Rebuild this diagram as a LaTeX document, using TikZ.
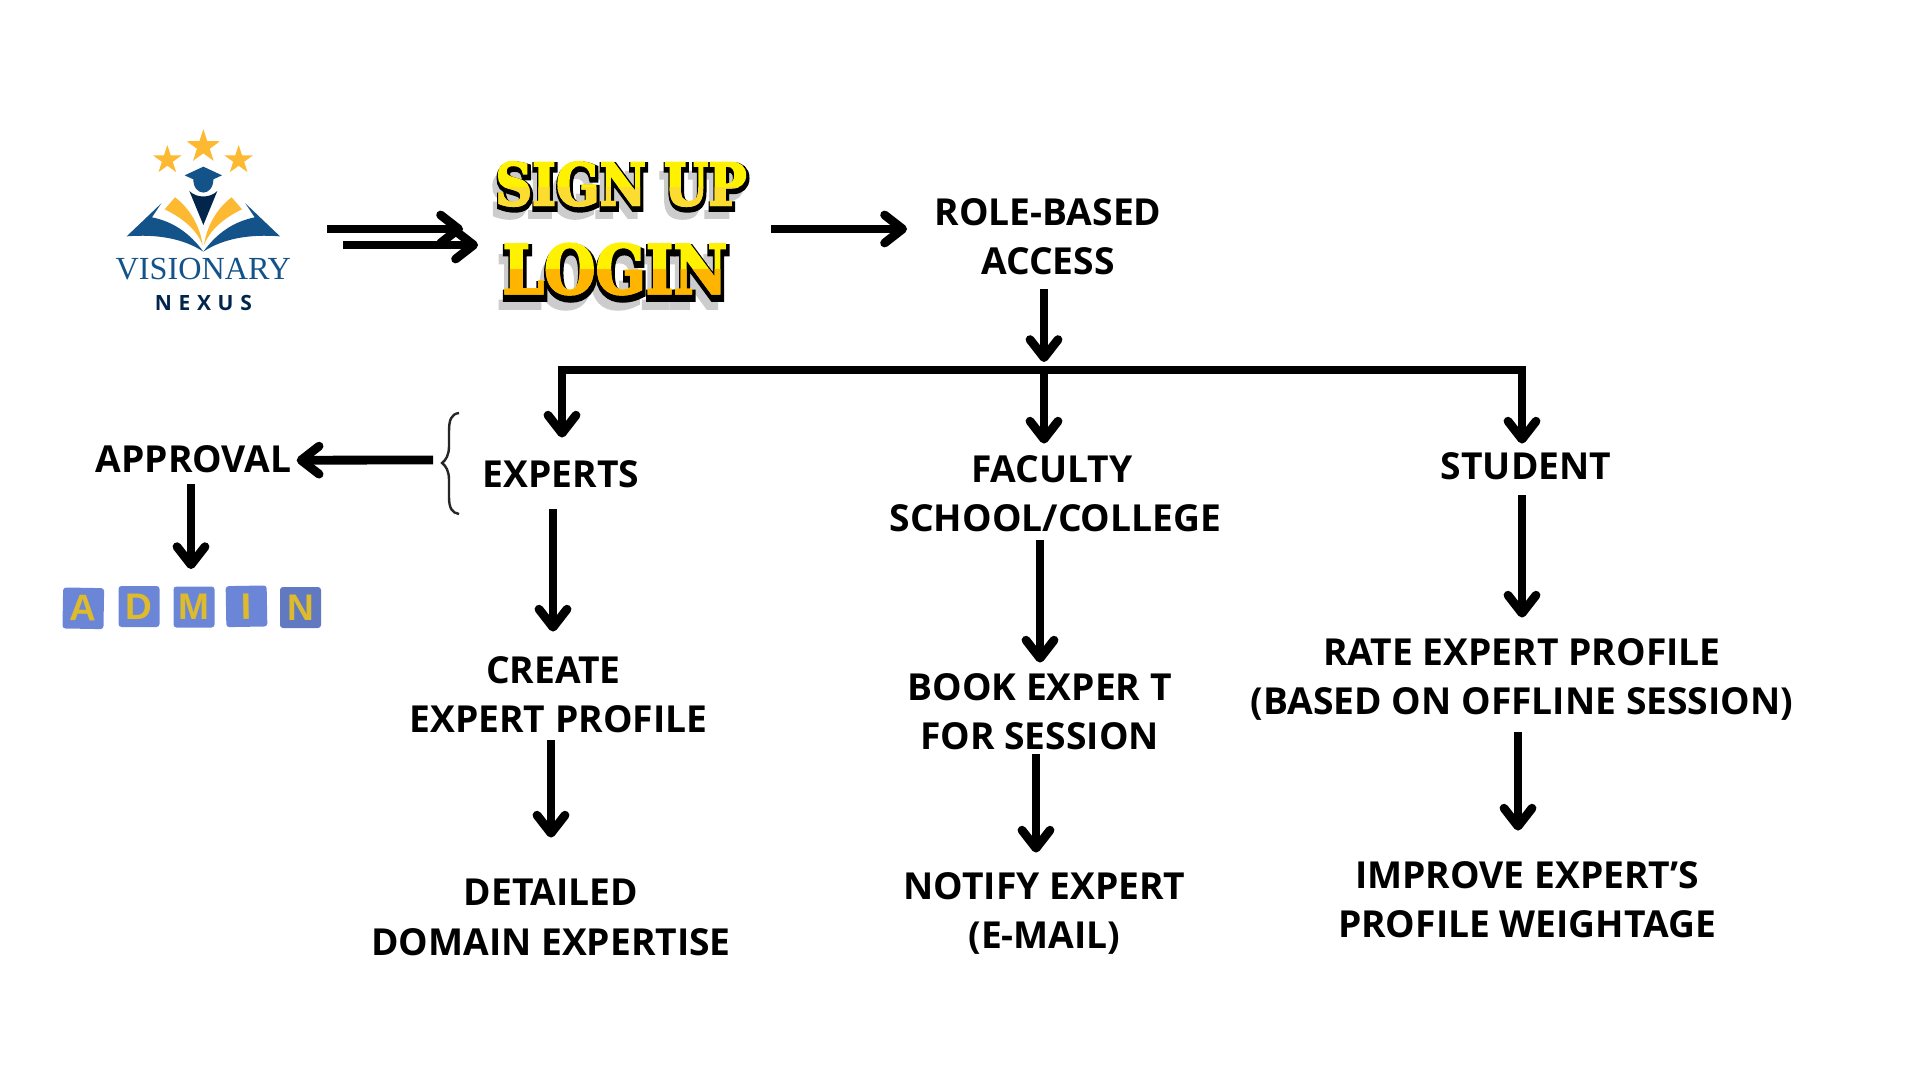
\documentclass[tikz,border=0pt]{standalone}
\usepackage{fontspec}
\usepackage{graphicx}
\usetikzlibrary{arrows.meta,shapes.geometric}
\setmainfont{Open Sans}
\newfontfamily\logoserif{Liberation Serif}
\newfontfamily\logosans[LetterSpace=32]{Open Sans}
\newfontfamily\tilefont{Liberation Sans}
\newfontfamily\toonplain[FakeBold=3]{DejaVu Serif}
\newfontfamily\toonfat[FakeBold=9]{DejaVu Serif}
\newfontfamily\toonfatter[FakeBold=12]{DejaVu Serif}
\newcommand{\tall}[1]{\scalebox{1}[1.15]{#1}}
\definecolor{navy}{HTML}{02264B}
\definecolor{bookblue}{HTML}{14538A}
\definecolor{gold}{HTML}{FDB931}
\definecolor{tileblue}{HTML}{6B86D6}
\definecolor{tilegold}{HTML}{DDBB2C}
\definecolor{toonyellow}{HTML}{FFF200}
\definecolor{toonorange}{HTML}{FFB400}
\definecolor{toonlow}{HTML}{FDDC32}
\tikzset{
  lbl/.style={inner sep=0pt,align=center,font=\fontsize{18.6}{24.7}\selectfont\bfseries,minimum height=44pt},
  lblone/.style={lbl,minimum height=18pt},
  arr/.style={line width=4.4pt,shorten >=-1pt,-{Straight Barb[length=9pt,width=14pt,round]}},
  busline/.style={line width=4.4pt,line cap=butt},
  tile/.style={inner sep=0pt,minimum size=20.5pt,rounded corners=1.5pt,fill=tileblue,text=tilegold,font=\tilefont\bfseries\fontsize{18.5}{19}\selectfont},
  star5/.style={star,star points=5,star point ratio=2.6,fill=gold,inner sep=0pt},
  toon/.style={inner sep=0pt},
  toonA/.style={toon,font=\toonplain\bfseries\fontsize{25.5}{28}\selectfont},
  toonAthick/.style={toon,font=\toonfatter\bfseries\fontsize{25.5}{28}\selectfont},
  toonAshadow/.style={toon,text=black!20,font=\toonfat\bfseries\fontsize{25.5}{28}\selectfont},
  toonB/.style={toon,font=\toonplain\bfseries\fontsize{29.5}{32}\selectfont},
  toonBthick/.style={toon,font=\toonfatter\bfseries\fontsize{29.5}{32}\selectfont},
  toonBshadow/.style={toon,text=black!20,font=\toonfat\bfseries\fontsize{29.5}{32}\selectfont}
}
\begin{document}
\begin{tikzpicture}[x=0.5pt,y=-0.5pt]
\useasboundingbox (0,0) rectangle (1920,1080);
\fill[white] (0,0) rectangle (1920,1080);

% ---- logo, drawn in the coordinates of a 3x crop
\begin{scope}[shift={(90,110)},x=0.16667pt,y=-0.16667pt]
  \node[star5,minimum size=17.5pt] (s2) at (340,110) {};
  \node[star5,minimum size=15pt] (s1) at (232,150) {};
  \node[star5,minimum size=15pt] (s3) at (446,150) {};
  \fill[bookblue] (340,170) -- (396,196) -- (340,222) -- (284,196) -- cycle;
  \fill[bookblue] (310,205) -- (370,205) .. controls (372,262) and (308,262) .. (310,205) -- cycle;
  \fill[navy] (298,243) .. controls (320,265) and (360,265) .. (382,243) -- (340,345) -- cycle;
  \fill[gold] (255,262) -- (224,298) .. controls (280,325) and (320,360) .. (338,405) .. controls (330,350) and (300,295) .. (255,262) -- cycle;
  \fill[gold] (425,262) -- (456,298) .. controls (400,325) and (360,360) .. (342,405) .. controls (350,350) and (380,295) .. (425,262) -- cycle;
  \fill[bookblue] (214,280) -- (110,379) .. controls (200,372) and (280,385) .. (340,425) .. controls (300,370) and (250,335) .. (186,322) -- cycle;
  \fill[bookblue] (466,280) -- (570,379) .. controls (480,372) and (400,385) .. (340,425) .. controls (380,370) and (430,335) .. (494,322) -- cycle;
  \node[inner sep=0pt,text=bookblue,font=\logoserif\fontsize{16.1}{18}\selectfont] (vis) at (340,477) {VISIONARY};
  \node[inner sep=0pt,text=navy,font=\logosans\bfseries\fontsize{10.5}{12}\selectfont] (nex) at (340,579) {NEXUS};
\end{scope}
\coordinate (logoA) at (327,229);
\coordinate (logoB) at (343,245);

% ---- cartoon words
\node[toonAshadow] at (617,195) {\tall{SIGN UP}};
\node[toonAthick,text=black] at (622,187) {\tall{SIGN UP}};
\node[toonA,text=toonyellow] (signup) at (621,184) {\tall{SIGN UP}};
\begin{scope}
  \clip (480,188) rectangle (770,215);
  \node[toonA,text=toonlow] at (621,184) {\tall{SIGN UP}};
\end{scope}
\node[toonBshadow] at (611,282) {\tall{LOGIN}};
\node[toonBthick,text=black] at (616,273) {\tall{LOGIN}};
\node[toonB,text=toonyellow] (login) at (615,269) {\tall{LOGIN}};
\begin{scope}
  \clip (480,270) rectangle (760,320);
  \node[toonB,text=toonorange] at (615,269) {\tall{LOGIN}};
\end{scope}

% ---- text nodes
\node[lbl] (role) at (1048,236.4) {ROLE-BASED\\ACCESS};
\node[lblone] (approval) at (193.5,459.2) {APPROVAL};
\node[lblone] (experts) at (561,474) {EXPERTS};
\node[lbl] (faculty) at (1055.5,494) {FACULTY\hspace*{3.7pt}\\SCHOOL/COLLEGE};
\node[lblone] (student) at (1526,466.5) {STUDENT};
\node[lbl] (create) at (558.4,694.7) {CREATE\hspace*{5pt}\\EXPERT PROFILE};
\node[lbl] (detailed) at (551,917.5) {DETAILED\\DOMAIN EXPERTISE};
\node[lbl] (book) at (1039.6,711.5) {BOOK EXPER T\\FOR SESSION};
\node[lbl] (notify) at (1044.5,913.4) {NOTIFY EXPERT\\(E-MAIL)};
\node[lbl] (rate) at (1522,679.3) {RATE EXPERT PROFILE\\(BASED ON OFFLINE SESSION)};
\node[lbl] (improve) at (1527,899.9) {IMPROVE EXPERT’S\\PROFILE WEIGHTAGE};

% ---- admin tiles
\node[tile,rotate=-1] (ta) at (83.3,608.3) {A};
\node[tile] (td) at (139,606.5) {D};
\node[tile] (tm) at (194,607) {M};
\node[tile,rotate=1] (ti) at (246.5,606.3) {I};
\node[tile,fill=tileblue!90!black] (tn) at (300.5,607.5) {N};

% ---- brace
\coordinate (bracetip) at (442,463);
\draw[line width=1.2pt,draw=black!85] (459,413) .. controls (451,414) and (449,420) .. (449,432) -- (449,446) .. controls (449,455) and (446,460) .. (bracetip) .. controls (446,466) and (449,471) .. (449,480) -- (449,497) .. controls (449,508) and (452,513) .. (459,514);

% ---- connectors
\coordinate (signupL) at (461,229);
\coordinate (loginL) at (476,245);
\draw[arr] (logoA) -- (signupL);
\draw[arr] (logoB) -- (loginL);
\coordinate (loginR) at (771,229);
\coordinate (roleL) at (905,229);
\draw[arr] (loginR) -- (roleL);

\coordinate (busL) at (562,370);
\coordinate (busM) at (1044,370);
\coordinate (busR) at (1522,370);
\draw[arr] ([shift={(-4,8.6)}]role.south) -- ([yshift=5pt]busM);
\draw[busline] ([xshift=-2.2pt]busL) -- ([xshift=2.2pt]busR);
\draw[arr] (busL) -- ([shift={(1,-20)}]experts.north);
\draw[arr] (busM) -- ([shift={(-11.5,-8)}]faculty.north);
\draw[arr] (busR) -- ([shift={(-4,-6.5)}]student.north);

\draw[arr] ([shift={(-9,-3)}]bracetip) -- ([shift={(7,1)}]approval.east);
\draw[arr] ([shift={(-2.5,6)}]approval.south) -- ([shift={(-3,-19)}]tm.north);

\draw[arr] ([shift={(-8,17)}]experts.south) -- ([shift={(-5.4,-20.7)}]create.north);
\draw[arr] ([shift={(-7.4,1.3)}]create.south) -- ([shift={(0,-37.5)}]detailed.north);

\draw[arr] ([shift={(-15.5,2)}]faculty.south) -- ([shift={(0.4,-6.5)}]book.north);
\draw[arr] ([shift={(-3.6,-1.5)}]book.south) -- ([shift={(-8.5,-18.4)}]notify.north);

\draw[arr] ([shift={(-4,10.5)}]student.south) -- ([shift={(0,-19.3)}]rate.north);
\draw[arr] ([shift={(-4,8.7)}]rate.south) -- ([shift={(-9,-26.9)}]improve.north);
\end{tikzpicture}
\end{document}
